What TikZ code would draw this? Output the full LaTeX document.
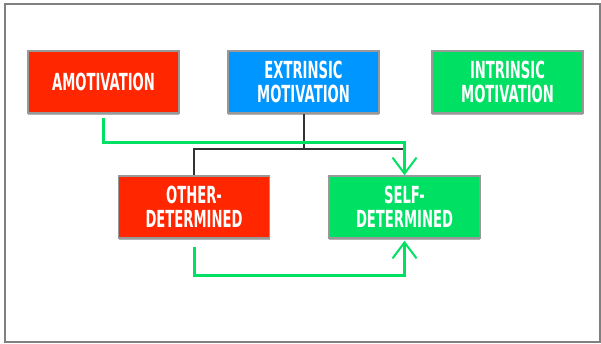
\documentclass[tikz,border=0pt]{standalone}
\usepackage{fontspec}
\usetikzlibrary{arrows.meta,shadows}
\newfontfamily\boxfont[FakeStretch=0.56]{DejaVu Sans Bold}
\definecolor{amored}{RGB}{255,38,0}
\definecolor{extblue}{RGB}{0,150,255}
\definecolor{intgreen}{RGB}{0,225,100}
\tikzset{
  box/.style={minimum width=151pt, minimum height=62pt, draw=gray!80, line width=1.5pt,
    text=white, align=center, inner sep=0pt,
    font=\boxfont\fontsize{23.5}{24}\selectfont,
    drop shadow={shadow xshift=0pt, shadow yshift=-2.5pt, opacity=0.6}},
  link/.style={line width=2pt, draw=black!80},
  flow/.style={line width=3pt, draw=intgreen, -{Straight Barb[length=16pt,width=24pt,line width=2pt]}}
}
\begin{document}
\begin{tikzpicture}[x=1pt,y=-1pt]
		\useasboundingbox (0,0) rectangle (601,344);
		\draw[gray, line width=1.3pt] (5,4) rectangle (600,342);
		\node[box, fill=amored] (amo) at (103.5,82) {AMOTIVATION};
		\node[box, fill=extblue] (ext) at (303.5,82) {EXTRINSIC\\MOTIVATION};
		\node[box, fill=intgreen] (intr) at (507.5,82) {INTRINSIC\\MOTIVATION};
		\node[box, fill=amored] (other) at (194,207) {OTHER-\\DETERMINED};
		\node[box, fill=intgreen] (self) at (404.5,207) {SELF-\\DETERMINED};
		\coordinate (bend) at (405,149);
		\coordinate (gtop) at (404.5,143);
		\coordinate (gbot) at (404.5,275);
		\draw[link] (ext.south) -- (ext.south |- bend);
		\draw[link] (other.north) |- (bend);
		\draw[flow, shorten <=4pt] (amo.south) |- (gtop) -- (self.north);
		\draw[flow, shorten <=8pt, shorten >=2pt] (other.south) |- (gbot) -- (self.south);
	\end{tikzpicture}
\end{document}
